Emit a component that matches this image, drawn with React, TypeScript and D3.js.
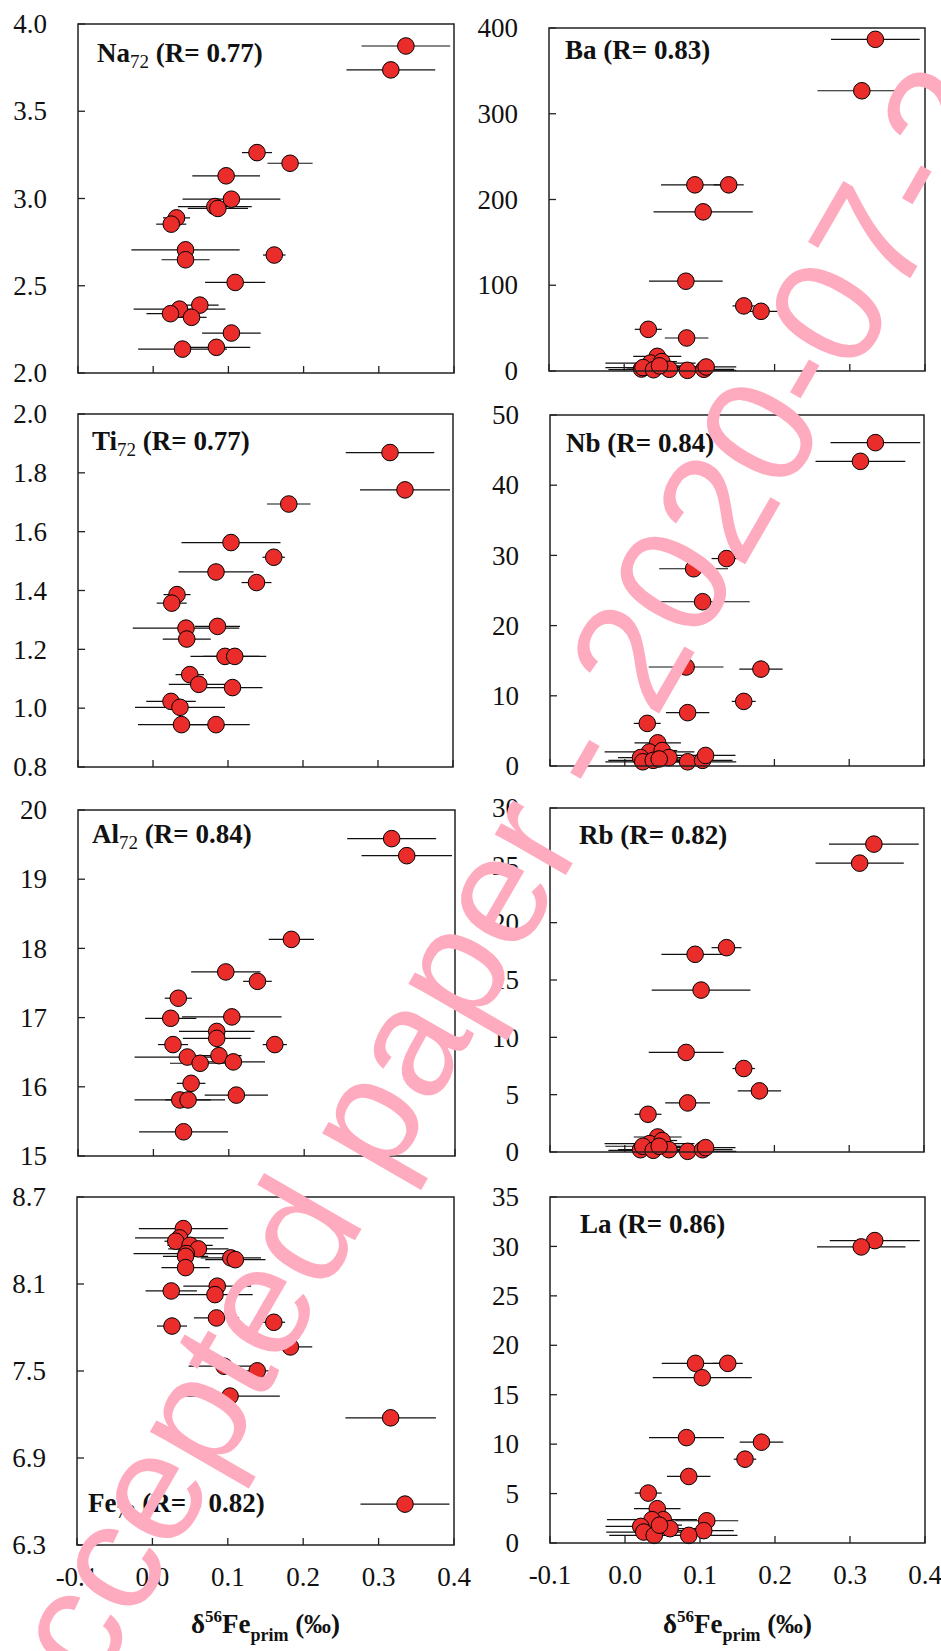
import React from "react";
import * as d3 from "d3";

// ---------- data: [δ56Fe_prim, element value, x-error] ----------
const NA72 = [
  [0.336, 3.874, 0.059], [0.316, 3.737, 0.059], [0.138, 3.263, 0.020], [0.182, 3.202, 0.030],
  [0.097, 3.130, 0.045], [0.104, 2.996, 0.065], [0.082, 2.954, 0.049], [0.086, 2.943, 0.040],
  [0.031, 2.889, 0.018], [0.024, 2.853, 0.020], [0.043, 2.706, 0.072], [0.043, 2.649, 0.032],
  [0.161, 2.676, 0.015], [0.109, 2.519, 0.040], [0.062, 2.389, 0.025], [0.035, 2.366, 0.061],
  [0.023, 2.340, 0.032], [0.051, 2.319, 0.020], [0.104, 2.229, 0.039], [0.084, 2.147, 0.045],
  [0.039, 2.137, 0.059],
];
const BA = [
  [0.334, 386.8, 0.059], [0.316, 326.8, 0.059], [0.094, 217.1, 0.045], [0.139, 217.1, 0.020],
  [0.105, 185.6, 0.066], [0.082, 104.7, 0.049], [0.159, 75.9, 0.015], [0.182, 69.6, 0.030],
  [0.032, 48.6, 0.018], [0.083, 38.5, 0.029], [0.044, 17.1, 0.032], [0.035, 9.3, 0.060],
  [0.050, 11.0, 0.020], [0.023, 2.3, 0.020], [0.025, 4.0, 0.050], [0.039, 1.5, 0.060],
  [0.060, 2.0, 0.040], [0.084, 0.8, 0.065], [0.106, 2.0, 0.040], [0.109, 4.7, 0.040],
  [0.047, 6.0, 0.030],
];
const TI72 = [
  [0.316, 1.869, 0.059], [0.336, 1.742, 0.060], [0.181, 1.694, 0.029], [0.104, 1.563, 0.066],
  [0.161, 1.513, 0.015], [0.084, 1.463, 0.050], [0.138, 1.427, 0.020], [0.032, 1.386, 0.018],
  [0.025, 1.357, 0.020], [0.044, 1.272, 0.071], [0.086, 1.278, 0.030], [0.045, 1.235, 0.032],
  [0.096, 1.176, 0.046], [0.109, 1.176, 0.042], [0.049, 1.114, 0.019], [0.061, 1.081, 0.040],
  [0.106, 1.070, 0.040], [0.024, 1.023, 0.033], [0.036, 1.003, 0.060], [0.038, 0.944, 0.058],
  [0.084, 0.944, 0.045],
];
const NB = [
  [0.335, 46.06, 0.060], [0.315, 43.4, 0.060], [0.136, 29.55, 0.020], [0.092, 28.1, 0.046],
  [0.104, 23.4, 0.063], [0.082, 14.1, 0.050], [0.182, 13.8, 0.029], [0.159, 9.2, 0.016],
  [0.084, 7.6, 0.029], [0.030, 6.07, 0.018], [0.044, 3.3, 0.031], [0.033, 2.0, 0.060],
  [0.050, 2.2, 0.020], [0.021, 1.2, 0.030], [0.024, 0.6, 0.050], [0.038, 0.8, 0.060],
  [0.059, 1.2, 0.040], [0.084, 0.6, 0.065], [0.104, 0.8, 0.040], [0.108, 1.5, 0.040],
  [0.046, 1.0, 0.030],
];
const AL72 = [
  [0.316, 19.586, 0.059], [0.336, 19.34, 0.060], [0.183, 18.13, 0.030], [0.096, 17.66, 0.046],
  [0.138, 17.524, 0.019], [0.033, 17.28, 0.018], [0.023, 16.99, 0.034], [0.104, 17.01, 0.066],
  [0.084, 16.80, 0.050], [0.084, 16.70, 0.045], [0.026, 16.61, 0.020], [0.161, 16.61, 0.016],
  [0.045, 16.43, 0.070], [0.087, 16.45, 0.030], [0.062, 16.34, 0.040], [0.106, 16.36, 0.042],
  [0.050, 16.05, 0.019], [0.110, 15.88, 0.042], [0.035, 15.81, 0.060], [0.046, 15.81, 0.030],
  [0.040, 15.35, 0.059],
];
const RB = [
  [0.333, 26.85, 0.060], [0.314, 25.19, 0.059], [0.136, 17.82, 0.020], [0.094, 17.24, 0.045],
  [0.102, 14.12, 0.066], [0.082, 8.68, 0.050], [0.159, 7.28, 0.015], [0.180, 5.33, 0.029],
  [0.084, 4.28, 0.030], [0.031, 3.29, 0.018], [0.044, 1.31, 0.032], [0.033, 0.73, 0.060],
  [0.050, 1.00, 0.020], [0.021, 0.20, 0.030], [0.024, 0.50, 0.050], [0.038, 0.15, 0.060],
  [0.059, 0.20, 0.040], [0.084, 0.06, 0.065], [0.104, 0.20, 0.040], [0.108, 0.38, 0.040],
  [0.046, 0.50, 0.030],
];
const FE72 = [
  [0.041, 8.482, 0.059], [0.036, 8.418, 0.059], [0.031, 8.395, 0.015], [0.050, 8.367, 0.030],
  [0.061, 8.342, 0.040], [0.045, 8.310, 0.070], [0.044, 8.291, 0.030], [0.104, 8.280, 0.040],
  [0.110, 8.268, 0.040], [0.044, 8.213, 0.032], [0.086, 8.085, 0.045], [0.083, 8.027, 0.050],
  [0.025, 8.052, 0.034], [0.085, 7.866, 0.030], [0.161, 7.836, 0.015], [0.026, 7.810, 0.020],
  [0.183, 7.666, 0.029], [0.095, 7.533, 0.047], [0.139, 7.501, 0.019], [0.103, 7.327, 0.066],
  [0.316, 7.177, 0.060], [0.335, 6.582, 0.059],
];
const LA = [
  [0.333, 30.59, 0.060], [0.315, 29.95, 0.059], [0.094, 18.17, 0.045], [0.137, 18.17, 0.020],
  [0.103, 16.72, 0.066], [0.082, 10.66, 0.050], [0.182, 10.2, 0.029], [0.160, 8.48, 0.015],
  [0.085, 6.73, 0.029], [0.031, 5.05, 0.018], [0.043, 3.47, 0.031], [0.109, 2.25, 0.042],
  [0.051, 2.36, 0.020], [0.036, 2.36, 0.060], [0.021, 1.68, 0.047], [0.060, 1.45, 0.040],
  [0.105, 1.25, 0.040], [0.025, 1.11, 0.050], [0.039, 0.77, 0.060], [0.085, 0.77, 0.065],
  [0.046, 1.80, 0.030],
];

const X_TICKS = [-0.1, 0.0, 0.1, 0.2, 0.3, 0.4];
const X_TICK_LABELS = ["-0.1", "0.0", "0.1", "0.2", "0.3", "0.4"];

const Y_TICKS_NA = ["2.0", "2.5", "3.0", "3.5", "4.0"];
const Y_TICKS_BA = ["0", "100", "200", "300", "400"];
const Y_TICKS_TI = ["0.8", "1.0", "1.2", "1.4", "1.6", "1.8", "2.0"];
const Y_TICKS_NB = ["0", "10", "20", "30", "40", "50"];
const Y_TICKS_AL = ["15", "16", "17", "18", "19", "20"];
const Y_TICKS_RB = ["0", "5", "10", "15", "20", "25", "30"];
const Y_TICKS_FE = ["6.3", "6.9", "7.5", "8.1", "8.7"];
const Y_TICKS_LA = ["0", "5", "10", "15", "20", "25", "30", "35"];

const LABELS = [
  { el: "Na", sub: "72", r: " (R= 0.77)" },
  { el: "Ba", sub: "", r: " (R= 0.83)" },
  { el: "Ti", sub: "72", r: " (R= 0.77)" },
  { el: "Nb", sub: "", r: " (R= 0.84)" },
  { el: "Al", sub: "72", r: " (R= 0.84)" },
  { el: "Rb", sub: "", r: " (R= 0.82)" },
  { el: "Fe", sub: "72", r: " (R= - 0.82)" },
  { el: "La", sub: "", r: " (R= 0.86)" },
];

const WATERMARK = "accepted paper - 2020-07-2";

// ---------- layout (pixel geometry, not data) ----------
const LAYOUT = [
  { x0: 78, x1: 454, y0: 24, y1: 373, tx: 97, ty: 62, bottom: false },
  { x0: 549, x1: 925, y0: 28, y1: 371, tx: 565, ty: 59, bottom: false },
  { x0: 78, x1: 453, y0: 414, y1: 767, tx: 92, ty: 450, bottom: false },
  { x0: 550, x1: 924, y0: 415, y1: 766, tx: 566, ty: 452, bottom: false },
  { x0: 78, x1: 455, y0: 810, y1: 1156, tx: 92, ty: 843, bottom: false },
  { x0: 550, x1: 924, y0: 808, y1: 1152, tx: 579, ty: 844, bottom: false },
  { x0: 77, x1: 454, y0: 1197, y1: 1545, tx: 88, ty: 1512, bottom: true },
  { x0: 550, x1: 925, y0: 1197, y1: 1543, tx: 580, ty: 1233, bottom: true },
];

const PANELS = [
  { data: NA72, ticks: Y_TICKS_NA },
  { data: BA, ticks: Y_TICKS_BA },
  { data: TI72, ticks: Y_TICKS_TI },
  { data: NB, ticks: Y_TICKS_NB },
  { data: AL72, ticks: Y_TICKS_AL },
  { data: RB, ticks: Y_TICKS_RB },
  { data: FE72, ticks: Y_TICKS_FE },
  { data: LA, ticks: Y_TICKS_LA },
];

const FONT = "'Liberation Serif', 'Times New Roman', serif";
const FILL = "#EA2C2A";

function Panel({ idx }: { idx: number }) {
  const L = LAYOUT[idx];
  const P = PANELS[idx];
  const lab = LABELS[idx];
  const tv = P.ticks.map(Number);
  const x = d3.scaleLinear().domain([X_TICKS[0], X_TICKS[X_TICKS.length - 1]]).range([L.x0, L.x1]);
  const y = d3.scaleLinear().domain([tv[0], tv[tv.length - 1]]).range([L.y1, L.y0]);
  const cx = (L.x0 + L.x1) / 2;
  return (
    <g>
      {/* y ticks */}
      {tv.map((v, i) => (
        <g key={"yt" + i}>
          <line x1={L.x0} x2={L.x0 + 7} y1={y(v)} y2={y(v)} stroke="#222" strokeWidth={1.3} />
          <text x={L.x0 - 31} y={y(v)} dy="0.34em" textAnchor="end" fontSize={27} fontFamily={FONT} fill="#111">
            {P.ticks[i]}
          </text>
        </g>
      ))}
      {/* x ticks */}
      {X_TICKS.map((v, i) => (
        <g key={"xt" + i}>
          <line x1={x(v)} x2={x(v)} y1={L.y1} y2={L.y1 - 7} stroke="#222" strokeWidth={1.3} />
          {L.bottom && (
            <text x={x(v)} y={L.y1 + 41} textAnchor="middle" fontSize={27} fontFamily={FONT} fill="#111">
              {X_TICK_LABELS[i]}
            </text>
          )}
        </g>
      ))}
      {/* error bars */}
      {P.data.map((d, i) => (
        <line key={"e" + i} x1={x(d[0] - d[2])} x2={x(d[0] + d[2])} y1={y(d[1])} y2={y(d[1])}
          stroke="#111" strokeWidth={1.2} />
      ))}
      {/* points */}
      {P.data.map((d, i) => (
        <circle key={"c" + i} cx={x(d[0])} cy={y(d[1])} r={8.3} fill={FILL} stroke="#000" strokeWidth={1} />
      ))}
      {/* frame */}
      <rect x={L.x0} y={L.y0} width={L.x1 - L.x0} height={L.y1 - L.y0} fill="none" stroke="#222" strokeWidth={1.5} />
      {/* label */}
      <text x={L.tx} y={L.ty} fontSize={27} fontWeight="bold" fontFamily={FONT} fill="#111">
        {lab.el}
        {lab.sub ? (
          <>
            <tspan fontSize={19} fontWeight="normal" dy={6}>{lab.sub}</tspan>
            <tspan dy={-6}>{lab.r}</tspan>
          </>
        ) : (
          <tspan>{lab.r}</tspan>
        )}
      </text>
      {L.bottom && (
        <text x={cx} y={1633} textAnchor="middle" fontSize={27} fontWeight="bold" fontFamily={FONT} fill="#111">
          δ<tspan fontSize={17} dy={-11}>56</tspan>
          <tspan dy={11}>Fe</tspan>
          <tspan fontSize={18} dy={8}>prim</tspan>
          <tspan dy={-8}> (‰)</tspan>
        </text>
      )}
    </g>
  );
}

export default function App() {
  return (
    <svg width={941} height={1651} viewBox="0 0 941 1651"
      style={{ position: "absolute", left: 0, top: 0, background: "#fff" }}>
      <rect x={0} y={0} width={941} height={1651} fill="#fff" />
      {PANELS.map((_, i) => (
        <Panel key={i} idx={i} />
      ))}
      <text transform="translate(52,1765) rotate(-60)" fontSize={155}
        fontFamily="'Liberation Sans', Arial, sans-serif" fill="#FFABBF">
        {WATERMARK}
      </text>
    </svg>
  );
}
